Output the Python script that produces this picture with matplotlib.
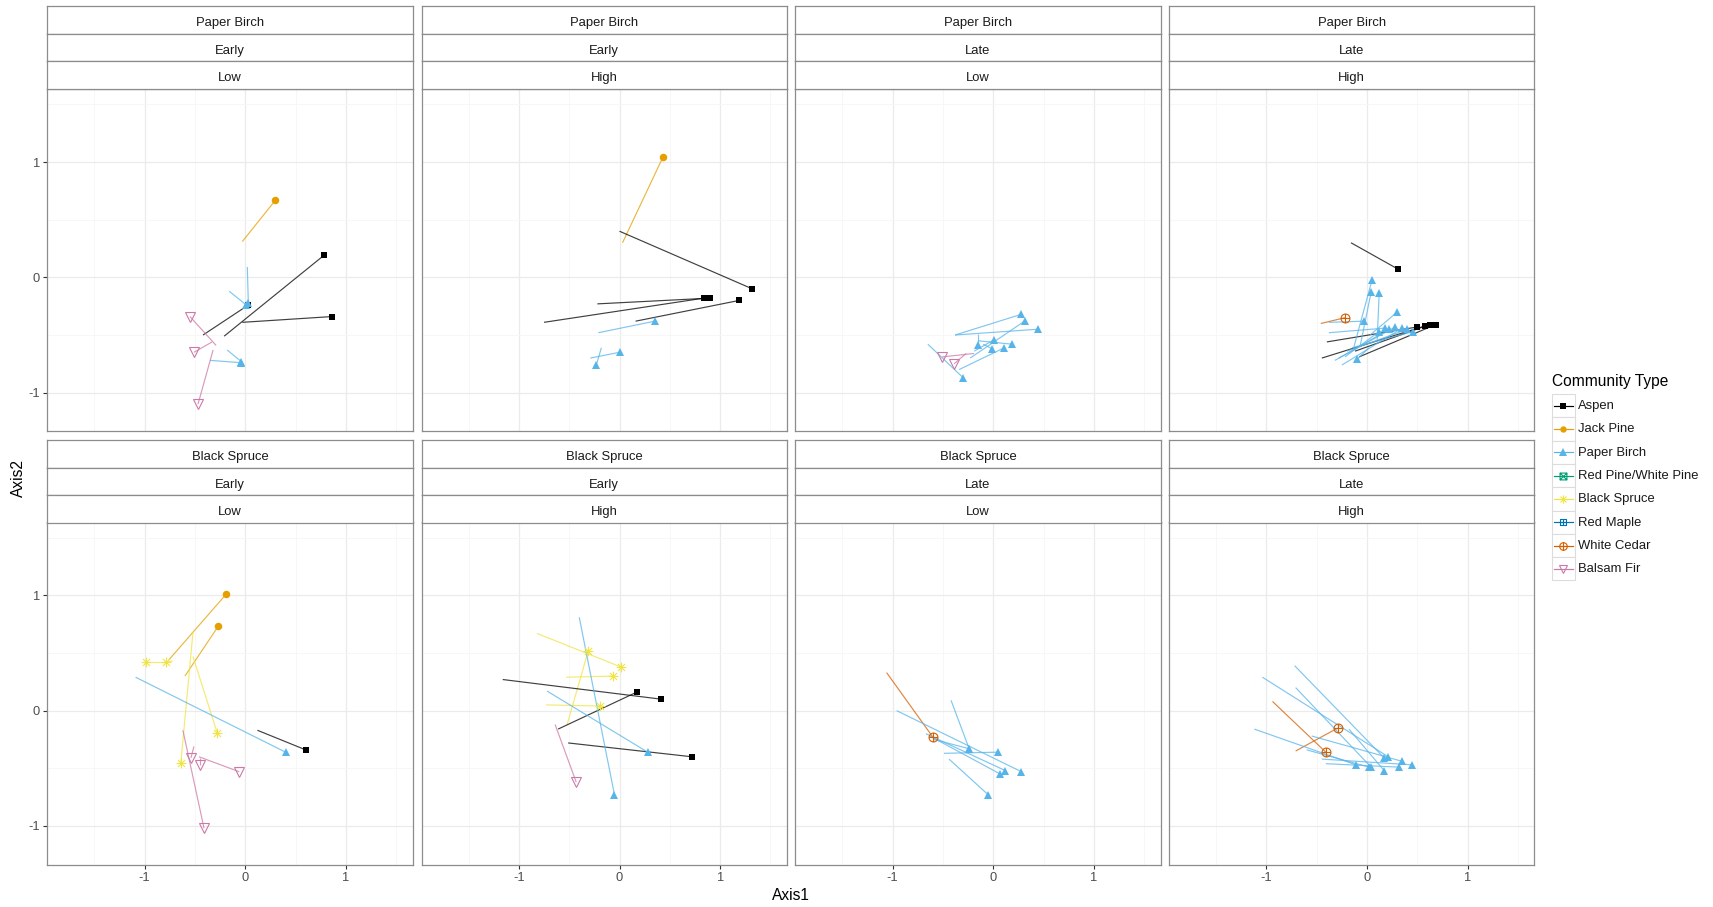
import matplotlib
matplotlib.use("Agg")
import matplotlib.pyplot as plt
from matplotlib.path import Path
from matplotlib.patches import Rectangle
from matplotlib.lines import Line2D
import pandas as pd

plt.rcParams["font.family"] = ["Liberation Sans", "DejaVu Sans"]

# ---- facet labels -------------------------------------------------------
strata = ["Paper Birch"] * 4 + ["Black Spruce"] * 4
stage = ["Early", "Early", "Late", "Late"] * 2
level = ["Low", "High", "Low", "High"] * 2

# ---- community types ----------------------------------------------------
community_types = ["Aspen", "Jack Pine", "Paper Birch", "Red Pine/White Pine",
                   "Black Spruce", "Red Maple", "White Cedar", "Balsam Fir"]
type_colors = ["#000000", "#E69F00", "#56B4E9", "#009E73",
               "#F0E442", "#0072B2", "#D55E00", "#CC79A7"]

# ---- trajectories: start point -> end point (end carries the marker) ----
panel = ([0] * 11 + [1] * 8 + [2] * 11 + [3] * 19 +
         [4] * 12 + [5] * 10 + [6] * 8 + [7] * 11)
community = (
    ["Jack Pine", "Aspen", "Aspen", "Aspen", "Paper Birch", "Paper Birch",
     "Paper Birch", "Paper Birch", "Balsam Fir", "Balsam Fir", "Balsam Fir"]
    + ["Jack Pine", "Aspen", "Aspen", "Aspen", "Aspen", "Paper Birch",
       "Paper Birch", "Paper Birch"]
    + ["Paper Birch"] * 9 + ["Balsam Fir"] * 2
    + ["Aspen"] * 5 + ["White Cedar"] + ["Paper Birch"] * 13
    + ["Jack Pine", "Jack Pine", "Black Spruce", "Black Spruce", "Black Spruce",
       "Black Spruce", "Paper Birch", "Aspen", "Balsam Fir", "Balsam Fir",
       "Balsam Fir", "Balsam Fir"]
    + ["Black Spruce"] * 4 + ["Aspen"] * 3 + ["Paper Birch"] * 2 + ["Balsam Fir"]
    + ["White Cedar"] + ["Paper Birch"] * 7
    + ["White Cedar"] * 2 + ["Paper Birch"] * 9
)
start_x = [
    -0.03, -0.42, -0.21, -0.03, 0.02, -0.16, -0.18, -0.35, -0.29, -0.33, -0.32,
    0.03, 0.00, -0.22, -0.75, 0.16, -0.21, -0.18, -0.29,
    -0.38, -0.38, -0.15, -0.23, -0.19, -0.34, -0.65, -0.15, -0.10, -0.19, -0.27,
    -0.16, -0.40, -0.45, -0.12, -0.08, -0.46, -0.13, -0.07, 0.10, 0.03, -0.38,
    -0.38, -0.32, -0.25, -0.20, -0.15, 0.02, -0.22, -0.28,
    -0.76, -0.60, -0.79, -0.72, -0.52, -0.52, -1.09, 0.12, -0.62, -0.51, -0.46, -0.45,
    -0.82, -0.52, -0.53, -0.73, -1.16, -0.61, -0.51, -0.40, -0.72, -0.64,
    -1.06, -0.42, -0.49, -0.67, -0.63, -0.44, -0.59, -0.96,
    -0.94, -0.71, -0.72, -1.04, -0.71, -1.12, -0.55, -0.18, -0.45, -0.41, -0.60,
]
start_y = [
    0.31, -0.50, -0.51, -0.39, 0.09, -0.12, -0.63, -0.72, -0.59, -0.56, -0.63,
    0.30, 0.40, -0.23, -0.39, -0.38, -0.48, -0.61, -0.70,
    -0.50, -0.50, -0.49, -0.70, -0.64, -0.80, -0.58, -0.55, -0.58, -0.66, -0.66,
    0.30, -0.56, -0.70, -0.64, -0.69, -0.40, -0.60, -0.60, -0.54, -0.50, -0.39,
    -0.48, -0.72, -0.76, -0.64, -0.61, -0.61, -0.69, -0.70,
    0.44, 0.30, 0.42, 0.43, 0.47, 0.68, 0.29, -0.17, -0.17, -0.31, -0.40, -0.41,
    0.67, -0.12, 0.29, 0.05, 0.27, -0.16, -0.28, 0.81, 0.17, -0.12,
    0.33, 0.09, -0.37, -0.20, -0.22, -0.42, -0.25, 0.00,
    0.08, -0.35, 0.39, 0.29, 0.20, -0.16, -0.22, -0.16, -0.42, -0.46, -0.34,
]
end_x = [
    0.30, 0.03, 0.78, 0.86, 0.03, 0.01, -0.04, -0.04, -0.55, -0.51, -0.47,
    0.43, 1.32, 0.90, 0.84, 1.19, 0.35, -0.23, 0.00,
    0.28, 0.44, -0.15, 0.31, 0.01, 0.11, -0.30, 0.19, -0.01, -0.51, -0.39,
    0.31, 0.50, 0.58, 0.62, 0.68, -0.22, 0.05, 0.04, 0.12, 0.30, -0.03,
    0.18, 0.28, 0.35, 0.40, 0.46, -0.10, 0.12, 0.22,
    -0.19, -0.27, -0.99, -0.79, -0.28, -0.64, 0.40, 0.60, -0.41, -0.54, -0.06, -0.45,
    0.01, -0.31, -0.06, -0.19, 0.41, 0.17, 0.72, -0.05, 0.28, -0.43,
    -0.60, -0.24, 0.05, 0.12, 0.07, -0.05, -0.24, 0.28,
    -0.41, -0.29, 0.17, 0.21, 0.04, -0.11, 0.35, 0.17, 0.45, 0.32, 0.02,
]
end_y = [
    0.67, -0.24, 0.19, -0.34, -0.22, -0.24, -0.73, -0.74, -0.34, -0.65, -1.10,
    1.04, -0.10, -0.18, -0.18, -0.20, -0.38, -0.76, -0.65,
    -0.32, -0.45, -0.59, -0.38, -0.54, -0.61, -0.87, -0.58, -0.62, -0.69, -0.75,
    0.07, -0.43, -0.42, -0.41, -0.41, -0.35, -0.02, -0.13, -0.14, -0.30, -0.38,
    -0.44, -0.43, -0.44, -0.45, -0.47, -0.71, -0.47, -0.45,
    1.01, 0.73, 0.42, 0.42, -0.19, -0.45, -0.36, -0.34, -1.02, -0.41, -0.53, -0.47,
    0.38, 0.52, 0.30, 0.04, 0.10, 0.16, -0.40, -0.73, -0.36, -0.62,
    -0.23, -0.33, -0.36, -0.52, -0.55, -0.73, -0.33, -0.53,
    -0.36, -0.15, -0.41, -0.40, -0.49, -0.47, -0.44, -0.52, -0.47, -0.49, -0.49,
]

segments = pd.DataFrame({"panel": panel, "community": community,
                         "x0": start_x, "y0": start_y,
                         "x1": end_x, "y1": end_y})

x_ticks = [-1, 0, 1]
y_ticks = [-1, 0, 1]

# ---- marker shapes ------------------------------------------------------
M, L, C = Path.MOVETO, Path.LINETO, Path.CLOSEPOLY
square = Path([(-1, -1), (1, -1), (1, 1), (-1, 1), (-1, -1)], [M, L, L, L, C])
cross = Path([(-1, -1), (1, 1), (-1, 1), (1, -1)], [M, L, M, L])
plus = Path([(0, -1), (0, 1), (-1, 0), (1, 0)], [M, L, M, L])
small_cross = Path([(-0.72, -0.72), (0.72, 0.72), (-0.72, 0.72), (0.72, -0.72)],
                   [M, L, M, L])
circle_plus = Path.make_compound_path(Path.unit_circle(), plus)
square_cross = Path.make_compound_path(square, cross)
square_plus = Path.make_compound_path(square, plus)
asterisk = Path.make_compound_path(plus, small_cross)

marker_style = {
    "Aspen": dict(marker="s", ms=5.0, mfc="#000000", mew=0),
    "Jack Pine": dict(marker="o", ms=5.4, mfc="#E69F00", mew=0),
    "Paper Birch": dict(marker="^", ms=6.2, mfc="#56B4E9", mew=0),
    "Red Pine/White Pine": dict(marker=square_cross, ms=5.8, mfc="none", mew=0.8),
    "Black Spruce": dict(marker=asterisk, ms=7.0, mfc="none", mew=0.8),
    "Red Maple": dict(marker=square_plus, ms=5.8, mfc="none", mew=0.8),
    "White Cedar": dict(marker=circle_plus, ms=6.4, mfc="none", mew=0.8),
    "Balsam Fir": dict(marker="v", ms=7.0, mfc="none", mew=0.8),
}
color_of = dict(zip(community_types, type_colors))

# ---- layout (pixels) ----------------------------------------------------
W, H = 1713, 907
fig = plt.figure(figsize=(W / 100, H / 100), dpi=100)
fig.patch.set_facecolor("white")


def frac(left, top, width, height):
    return [left / W, 1 - (top + height) / H, width / W, height / H]


col_left = [47.4, 421.6, 795.4, 1169.2]
panel_w = 365.2
strip_top = [6.0, 440.0]
strip_h = 27.55
plot_top = [88.7, 522.0]
plot_h = 342.6
border = "#8c8c8c"
xlim = (-1.966, 1.662)
ylim = (-1.335, 1.636)

for p in range(8):
    r, c = divmod(p, 4)
    ax = fig.add_axes(frac(col_left[c], plot_top[r], panel_w, plot_h))
    ax.set_xlim(*xlim)
    ax.set_ylim(*ylim)
    ax.set_xticks(x_ticks)
    ax.set_yticks(y_ticks)
    ax.set_xticks([-1.5, -0.5, 0.5, 1.5], minor=True)
    ax.set_yticks([-0.5, 0.5, 1.5], minor=True)
    ax.grid(True, which="major", color="#ebebeb", lw=0.9)
    ax.grid(True, which="minor", color="#f6f6f6", lw=0.6)
    ax.set_axisbelow(True)
    for s in ax.spines.values():
        s.set_color(border)
        s.set_linewidth(0.9)
    ax.tick_params(which="minor", length=0)
    ax.tick_params(which="major", length=3, width=0.8, color="#333333",
                   labelsize=9.3, labelcolor="#4d4d4d", pad=2.5)
    if r == 0:
        ax.tick_params(axis="x", length=0, labelbottom=False)
    if c != 0:
        ax.tick_params(axis="y", length=0, labelleft=False)
    if c == 0:
        ax.set_yticklabels([str(v) for v in y_ticks])
    if r == 1:
        ax.set_xticklabels([str(v) for v in x_ticks])

    sub = segments[segments["panel"] == p]
    for _, row in sub.iterrows():
        ax.plot([row.x0, row.x1], [row.y0, row.y1],
                color=color_of[row.community], lw=0.85, alpha=0.75,
                solid_capstyle="butt", zorder=2)
    for _, row in sub.iterrows():
        st = marker_style[row.community]
        ax.plot([row.x1], [row.y1], linestyle="none",
                marker=st["marker"], ms=st["ms"], mfc=st["mfc"], mew=st["mew"],
                mec=color_of[row.community], zorder=3)

    # facet strips
    for k, lab in enumerate([strata[p], stage[p], level[p]]):
        sax = fig.add_axes(frac(col_left[c], strip_top[r] + k * strip_h,
                                panel_w, strip_h))
        sax.set_xticks([])
        sax.set_yticks([])
        sax.set_facecolor("white")
        for s in sax.spines.values():
            s.set_color(border)
            s.set_linewidth(0.9)
        sax.text(0.5, 0.37, lab, ha="center", va="center", fontsize=9.4,
                 color="#1a1a1a", transform=sax.transAxes)

# axis titles
fig.text(790.5 / W, 1 - 896 / H, "Axis1", ha="center", va="center", fontsize=11.2)
fig.text(18.5 / W, 1 - 478 / H, "Axis2", ha="center", va="center",
         rotation=90, fontsize=11.2)

# ---- legend -------------------------------------------------------------
lax = fig.add_axes([0, 0, 1, 1])
lax.set_xlim(0, W)
lax.set_ylim(H, 0)
lax.axis("off")
lax.text(1551.5, 381.5, "Community Type", ha="left", va="center", fontsize=11.2)
key_w, key_h = 23.3, 23.3
for i, name in enumerate(community_types):
    cy = 405.7 + i * key_h
    lax.add_patch(Rectangle((1551.7, cy - key_h / 2), key_w, key_h,
                            facecolor="white", edgecolor="#dcdcdc", lw=0.8))
    col = color_of[name]
    lax.add_line(Line2D([1553.5, 1573.2], [cy, cy], color=col, lw=0.85))
    st = marker_style[name]
    lax.add_line(Line2D([1563.3], [cy], linestyle="none", marker=st["marker"],
                        ms=st["ms"] * 0.85, mfc=st["mfc"], mew=st["mew"], mec=col))
    lax.text(1578.0, cy + 0.5, name, ha="left", va="center", fontsize=9.4,
             color="#1a1a1a")

fig.savefig("out.png", dpi=100, facecolor="white")
